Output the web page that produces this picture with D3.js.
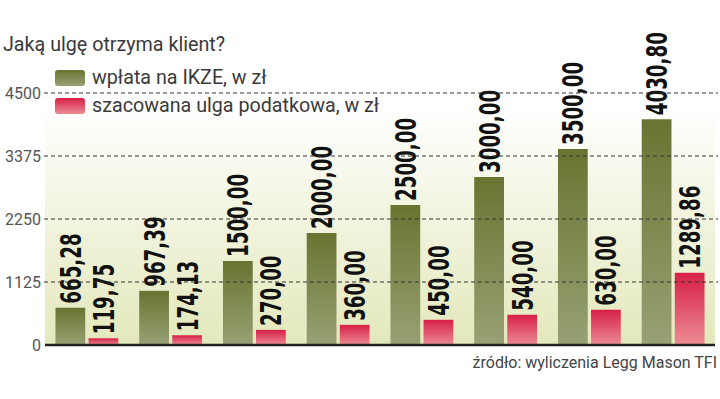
<!DOCTYPE html>
<html>
<head>
<meta charset="utf-8">
<script src="https://cdn.jsdelivr.net/npm/d3@7"></script>
<style>
    body { margin: 0; background: #fff; }
    svg { display: block; }
</style>
</head>
<body>
<div id="charts"></div>
<script>
// values
const categories = ['1', '2', '3', '4', '5', '6', '7', '8'];
const wplata = [665.28, 967.39, 1500.00, 2000.00, 2500.00, 3000.00, 3500.00, 4030.80];
const ulga = [119.75, 174.13, 270.00, 360.00, 450.00, 540.00, 630.00, 1289.86];
const ticks = [0, 1125, 2250, 3375, 4500];
const seriesNames = ['wpłata na IKZE, w zł', 'szacowana ulga podatkowa, w zł'];

let format = d => d.toFixed(2).replace('.', ',');
let textFont = 'Roboto, "Liberation Sans", sans-serif';

let width = 720, height = 399;

let svg = d3.select('#charts')
    .append('svg')
    .attr('width', width)
    .attr('height', height)
    .attr('viewBox', [0, 0, width, height]);

let defs = svg.append('defs');

function addGradient(id, top, bottom) {
    let g = defs.append('linearGradient')
        .attr('id', id)
        .attr('x1', 0).attr('y1', 0)
        .attr('x2', 0).attr('y2', 1);
    g.append('stop').attr('offset', '0%').attr('stop-color', top);
    g.append('stop').attr('offset', '100%').attr('stop-color', bottom);
}
addGradient('bg-grad', '#ffffff', '#e3e8bb');
addGradient('green-grad', '#697431', '#97a174');
addGradient('red-grad', '#d71f46', '#ec8c93');

let y = d3.scaleLinear([0, 4500], [345, 93]);
let x0 = d3.scaleBand(categories, [45, 715]).paddingInner(0.25).paddingOuter(0.125);
let x1 = d3.scaleBand([0, 1], [0, x0.bandwidth()]).paddingInner(0.1);

let data = categories.map((c, i) => ({cat: c, values: [wplata[i], ulga[i]]}));
let fills = ['url(#green-grad)', 'url(#red-grad)'];

// title
svg.append('text')
    .attr('x', 3)
    .attr('y', 51)
    .attr('font-family', textFont)
    .attr('font-size', 19.7)
    .attr('fill', '#3a3a3a')
    .text('Jaką ulgę otrzyma klient?');

// plot background
svg.append('rect')
    .attr('x', 45)
    .attr('y', 105)
    .attr('width', 670)
    .attr('height', y(0) - 105)
    .attr('fill', 'url(#bg-grad)');

// bars
let groups = svg.append('g')
    .selectAll('g')
    .data(data)
    .join('g')
    .attr('transform', d => `translate(${x0(d.cat)},0)`);

groups.selectAll('rect')
    .data(d => d.values.map((v, k) => ({k, v})))
    .join('rect')
    .attr('x', d => x1(d.k))
    .attr('y', d => y(d.v))
    .attr('width', x1.bandwidth())
    .attr('height', d => y(0) - y(d.v))
    .attr('fill', d => fills[d.k]);

// gridlines + tick labels
let grid = svg.append('g');
grid.selectAll('line')
    .data(ticks.filter(t => t > 0))
    .join('line')
    .attr('x1', 44)
    .attr('x2', 718)
    .attr('y1', d => y(d))
    .attr('y2', d => y(d))
    .attr('stroke', '#333')
    .attr('stroke-width', 1)
    .attr('stroke-dasharray', '4,3');

grid.selectAll('text')
    .data(ticks)
    .join('text')
    .attr('x', 41)
    .attr('y', d => y(d) + 6)
    .attr('text-anchor', 'end')
    .attr('font-family', textFont)
    .attr('font-size', 16)
    .attr('fill', '#555')
    .text(d => d);

// baseline
svg.append('line')
    .attr('x1', 45)
    .attr('x2', 715)
    .attr('y1', y(0))
    .attr('y2', y(0))
    .attr('stroke', '#222')
    .attr('stroke-width', 2.5);

// value labels, rotated
groups.selectAll('text')
    .data(d => d.values.map((v, k) => ({k, v})))
    .join('text')
    .attr('transform', d => `translate(${x1(d.k) + x1.bandwidth() / 2 + 10.5},${y(d.v) - 4}) rotate(-90) scale(0.63,1)`)
    .attr('font-family', '"DejaVu Sans", sans-serif')
    .attr('font-weight', 'bold')
    .attr('font-size', 29)
    .attr('fill', '#111')
    .text(d => format(d.v));

// legend
let legend = svg.append('g');
legend.selectAll('rect')
    .data(seriesNames)
    .join('rect')
    .attr('x', 55)
    .attr('y', (d, i) => 70 + i * 28)
    .attr('width', 30)
    .attr('height', 16)
    .attr('rx', 3)
    .attr('fill', (d, i) => fills[i]);

legend.selectAll('text')
    .data(seriesNames)
    .join('text')
    .attr('x', 92)
    .attr('y', (d, i) => 84 + i * 28)
    .attr('font-family', textFont)
    .attr('font-size', 19.7)
    .attr('fill', '#3a3a3a')
    .text(d => d);

// source
svg.append('text')
    .attr('x', 717)
    .attr('y', 368)
    .attr('text-anchor', 'end')
    .attr('font-family', textFont)
    .attr('font-size', 16)
    .attr('fill', '#444')
    .text('źródło: wyliczenia Legg Mason TFI');
</script>
</body>
</html>
